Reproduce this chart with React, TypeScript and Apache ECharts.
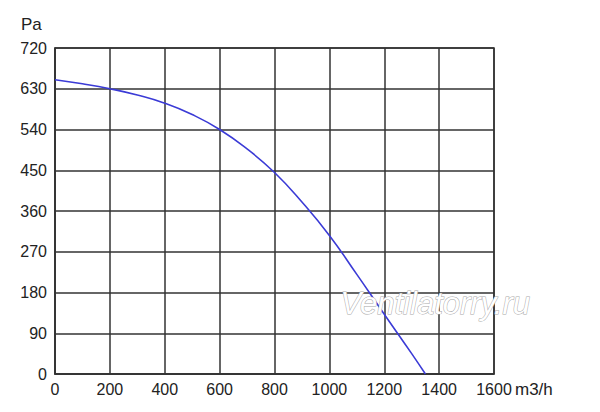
import { useEffect, useRef } from "react";
import * as echarts from "echarts";

// flow (m3/h) vs pressure (Pa)
const flow = [0, 100, 200, 300, 400, 500, 600, 700, 800, 900, 1000, 1100, 1200, 1300, 1350];
const pressure = [650, 641, 630, 616, 598, 573, 540, 497, 445, 380, 306, 220, 132, 45, 0];

const FONT = "'Liberation Sans', Arial, sans-serif";

export default function App() {
  const ref = useRef<HTMLDivElement | null>(null);

  useEffect(() => {
    if (!ref.current) return;
    const chart = echarts.init(ref.current, null, { renderer: "svg" });

    const option: echarts.EChartsOption = {
      animation: false,
      backgroundColor: "#ffffff",
      grid: { left: 55, right: 106, top: 48, bottom: 38 },
      xAxis: {
        type: "value",
        min: 0,
        max: 1600,
        interval: 200,
        axisLine: { show: true, lineStyle: { color: "#333", width: 1.5 } },
        axisTick: { show: false },
        axisLabel: { color: "#222", fontSize: 16, fontFamily: FONT, margin: 7, formatter: (v: number) => String(v) },
        splitLine: { show: true, lineStyle: { color: "#333", width: 1.5 } }
      },
      yAxis: {
        type: "value",
        min: 0,
        max: 720,
        interval: 90,
        axisLine: { show: true, lineStyle: { color: "#333", width: 1.5 } },
        axisTick: { show: false },
        axisLabel: { color: "#222", fontSize: 16, fontFamily: FONT, margin: 8, formatter: (v: number) => String(v) },
        splitLine: { show: true, lineStyle: { color: "#333", width: 1.5 } }
      },
      graphic: [
        {
          type: "rect",
          shape: { x: 55, y: 48, width: 439, height: 326 },
          style: { fill: "none", stroke: "#333", lineWidth: 1.5 },
          silent: true
        },
        {
          type: "text",
          left: 21,
          top: 16,
          style: { text: "Pa", fill: "#222", font: `17px ${FONT}` }
        },
        {
          type: "text",
          left: 515,
          top: 381,
          style: { text: "m3/h", fill: "#222", font: `17px ${FONT}` }
        },
        {
          type: "text",
          left: 340,
          top: 287,
          z: 10,
          style: {
            text: "Ventilatorry.ru",
            fill: "#ffffff",
            stroke: "#a8a8a8",
            lineWidth: 1,
            font: `italic 31px ${FONT}`
          }
        }
      ],
      series: [
        {
          type: "line",
          data: flow.map((f, i) => [f, pressure[i]]),
          smooth: true,
          showSymbol: false,
          lineStyle: { color: "#3b3bd6", width: 1.6 }
        }
      ]
    };

    chart.setOption(option);
    return () => chart.dispose();
  }, []);

  return <div ref={ref} style={{ position: "fixed", left: 0, top: 0, width: 600, height: 412 }} />;
}
